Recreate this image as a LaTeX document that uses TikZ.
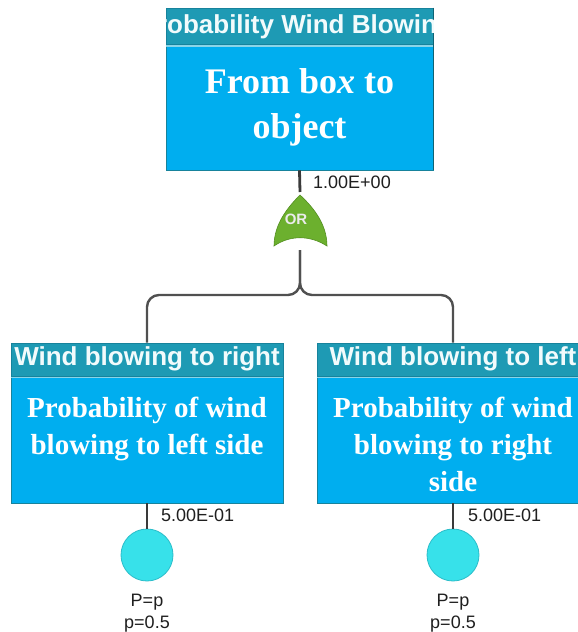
\documentclass[tikz,border=0pt]{standalone}
\usepackage{fontspec}
\setmainfont{Liberation Serif}
\newfontfamily\lsans{Liberation Sans}
\definecolor{headc}{HTML}{1E9AB4}
\definecolor{bodyc}{HTML}{00AEEF}
\definecolor{sepc}{HTML}{8AD5E8}
\definecolor{edgec}{HTML}{17839C}
\definecolor{darkedge}{HTML}{0F6374}
\definecolor{headtext}{HTML}{F2FBFC}
\definecolor{gatec}{HTML}{6CB02E}
\definecolor{gateedge}{HTML}{548F22}
\definecolor{circc}{HTML}{37E1EA}
\definecolor{circedge}{HTML}{2ABDC9}
\definecolor{linec}{HTML}{505050}
\definecolor{stubc}{HTML}{3A3A3A}
\begin{document}
\begin{tikzpicture}[x=1pt,y=-1pt,
  headbox/.style={fill=headc, draw=edgec, line width=0.8pt, minimum width=272, minimum height=33, inner sep=0},
  bodybox/.style={fill=bodyc, draw=edgec, line width=0.8pt, minimum width=272, minimum height=126, inner sep=0},
  headtxt/.style={font=\lsans\bfseries\fontsize{26}{30}\selectfont, text=headtext, anchor=base, inner sep=0},
  bodytxt/.style={font=\bfseries\fontsize{29}{37}\selectfont, text=white, anchor=base, inner sep=0},
  sepline/.style={draw=sepc, line width=1.6pt},
  wire/.style={draw=linec, line width=2.4pt},
  stub/.style={draw=stubc, line width=2.8pt},
  basicev/.style={circle, fill=circc, draw=circedge, line width=0.8pt, minimum size=52, inner sep=0},
  prob/.style={font=\lsans\fontsize{18}{22}\selectfont, text=black!88, anchor=base west, inner sep=0},
  param/.style={font=\lsans\fontsize{18}{22}\selectfont, text=black!88, anchor=base, inner sep=0}
]
\useasboundingbox (0,0) rectangle (578,632);
\clip (0,0) rectangle (578,632);
\fill[white] (0,0) rectangle (578,632);

% top event
\node[headbox, minimum width=267, minimum height=36.5] (tophead) at (299.5,26.25) {};
\node[bodybox, minimum width=267, minimum height=124.5] (topbody) at (299.5,107.75) {};
\draw[sepline] ([yshift=-1pt]topbody.north west) -- ([yshift=-1pt]topbody.north east);
\draw[draw=darkedge, line width=1.6pt] (tophead.north east) -- (topbody.south east);
\begin{scope}
  \clip (tophead.south west) rectangle (tophead.north east);
  \node[headtxt, anchor=base west] (toptitle) at (139.5,33) {Probability Wind Blowing};
\end{scope}
\node[bodytxt, font=\bfseries\fontsize{36}{45}\selectfont] (top1) at (299.5,93) {From bo\textit{x} to};
\node[bodytxt, font=\bfseries\fontsize{36}{45}\selectfont] (top2) at (299.5,138) {object};

% gate
\coordinate (gtop) at (300,192);
\coordinate (gbot) at (300,250);
\fill[gatec, draw=gateedge, line width=0.6pt] (300,195) .. controls (288,207) and (274,224) .. (274,246)
  .. controls (290,235) and (310,235) .. (327,246)
  .. controls (327,224) and (313,207) .. (300,195) -- cycle;
\node[font=\lsans\bfseries\fontsize{15}{16}\selectfont, text=white!92!black, inner sep=0] (ortxt) at (296,219.5) {OR};
\node[prob] (p0) at (313,188) {1.00E+00};

% left box
\node[headbox] (lhead) at (147,359.5) {};
\node[bodybox] (lbody) at (147,440) {};
\draw[sepline] ([yshift=-1pt]lbody.north west) -- ([yshift=-1pt]lbody.north east);
\node[headtxt] (ltitle) at (147,365) {Wind blowing to right};
\node[bodytxt] (l1) at (147,417) {Probability of wind};
\node[bodytxt] (l2) at (147,454) {blowing to left side};

% right box
\node[headbox] (rhead) at (453,359.5) {};
\node[bodybox] (rbody) at (453,440) {};
\draw[sepline] ([yshift=-1pt]rbody.north west) -- ([yshift=-1pt]rbody.north east);
\node[headtxt] (rtitle) at (453,365) {Wind blowing to left};
\node[bodytxt] (r1) at (453,417) {Probability of wind};
\node[bodytxt] (r2) at (453,454) {blowing to right};
\node[bodytxt] (r3) at (453,491) {side};

% basic events
\node[basicev] (c1) at (147,555) {};
\node[basicev] (c2) at (453,555) {};
\node[prob] (p1) at (161,521) {5.00E-01};
\node[prob] (p2) at (468,521) {5.00E-01};
\node[param] (a1) at (147,606) {P=p};
\node[param] (b1) at (147,628) {p=0.5};
\node[param] (a2) at (453,606) {P=p};
\node[param] (b2) at (453,628) {p=0.5};

% connectors
\draw[stub] (topbody.south) -- (gtop);
\draw[wire, rounded corners=12] (gbot) -- (300,295) -- (147,295) -- (lhead.north);
\draw[wire, rounded corners=12] (gbot) -- (300,295) -- (453,295) -- (rhead.north);
\draw[stub] (lbody.south) -- (c1.north);
\draw[stub] (rbody.south) -- (c2.north);
\end{tikzpicture}
\end{document}
